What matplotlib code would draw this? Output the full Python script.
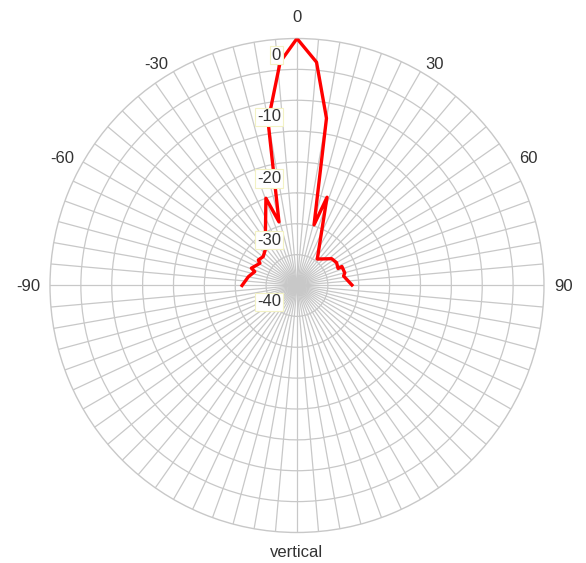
import numpy as np
import matplotlib
matplotlib.use("Agg")
import matplotlib.pyplot as plt

plt.rcParams['font.family'] = ['Liberation Sans', 'DejaVu Sans']

# vertical antenna pattern, angle in degrees, gain in dB
angle_deg = [-90, -79.8, -71.8, -69.2, -59, -56.6, -49.5, -42, -19.6, -15.8,
             -10, -4.3, 0, 5, 10, 15.7, 18.8, 37.5, 52.3, 60, 67.5, 67.1,
             75.3, 78.5, 89.5]
gain_db = [-31.1, -32.0, -32.8, -32.1, -33.0, -32.5, -32.8, -32.3, -25.0, -29.3,
           -13.0, -3.7, 0.0, -3.7, -12.5, -29.8, -24.9, -34.6, -32.9, -32.6,
           -32.8, -32.1, -32.0, -32.3, -31.1]

ring_labels = [0, -10, -20, -30, -40]
angle_labels = [0, 30, 60, 90, -30, -60, -90]

grid_col = '#c8c8c8'
text_col = '#333333'

fig = plt.figure(figsize=(5.86, 5.63), dpi=100)
ax = fig.add_axes([0.0853, 0.0542, 0.843, 0.8774], projection='polar')
ax.set_theta_zero_location('N')
ax.set_theta_direction(-1)
ax.set_rlim(-40, 0)

# 5 degree spokes, 5 dB rings
ax.set_xticks(np.deg2rad(np.arange(0, 360, 5)))
ax.set_xticklabels([])
ax.set_yticks(np.arange(-35, 0, 5))
ax.set_yticklabels([])
ax.grid(True, color=grid_col, linewidth=0.9)
ax.tick_params(length=0)
ax.spines['polar'].set_color(grid_col)
ax.spines['polar'].set_linewidth(1.0)

ax.plot(np.deg2rad(angle_deg), gain_db, color='#ff0000', linewidth=2.4, zorder=5)

# angle labels outside the circle
for a in angle_labels:
    t = np.deg2rad(a)
    if a == 0:
        ax.annotate(str(a), xy=(t, 0), xytext=(0, 16.5), textcoords='offset pixels',
                    ha='center', va='baseline', fontsize=12, color=text_col,
                    annotation_clip=False)
    else:
        pad = 10
        ax.annotate(str(a), xy=(t, 0),
                    xytext=(pad * np.sin(t), pad * np.cos(t)), textcoords='offset pixels',
                    ha='left' if a > 0 else 'right', va='center_baseline',
                    fontsize=12, color=text_col, annotation_clip=False)

# dB labels just below each ring, left of the 0 spoke
for v in ring_labels:
    ax.annotate(str(v), xy=(0, v), xytext=(-16, -15), textcoords='offset pixels',
                ha='right', va='center_baseline', fontsize=12, color=text_col,
                annotation_clip=False, zorder=10,
                bbox=dict(boxstyle='square,pad=0.1', facecolor='white',
                          edgecolor='#f3f2c4', linewidth=0.8))

fig.text(0.5068, 1 - 556.7 / 563, 'vertical', ha='center', va='baseline',
         fontsize=12, color=text_col)

fig.savefig('out.png', dpi=100, facecolor='white')
